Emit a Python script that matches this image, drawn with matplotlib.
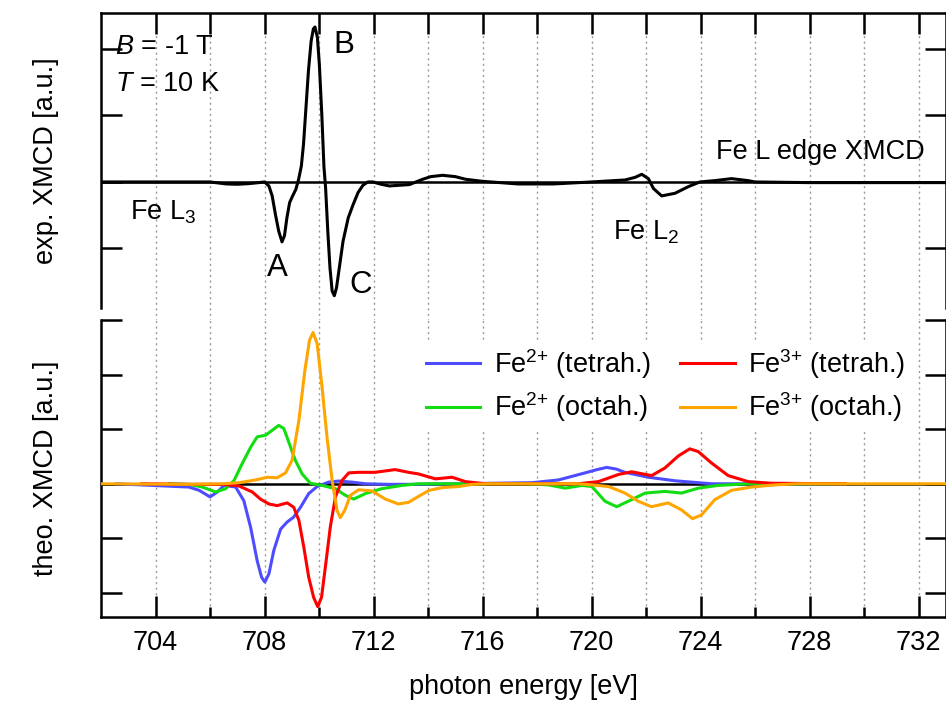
import numpy as np
import matplotlib
matplotlib.use("Agg")
import matplotlib.pyplot as plt

plt.rcParams["font.family"] = ["Liberation Sans", "DejaVu Sans"]
plt.rcParams["mathtext.fontset"] = "custom"
plt.rcParams["mathtext.rm"] = "Liberation Sans"
plt.rcParams["mathtext.it"] = "Liberation Sans:italic"
FS = 19.5

# experimental XMCD (photon energy [eV], a.u.)
exp_E = [702.0, 706.0, 706.6, 707.0, 707.43, 707.79, 708.0, 708.16, 708.28, 708.40, 708.52, 708.64,
         708.73, 708.82, 708.92, 709.03, 709.15, 709.25, 709.35, 709.43, 709.52, 709.61, 709.71,
         709.79, 709.85, 709.94, 710.01, 710.10, 710.18, 710.24, 710.32, 710.40, 710.48, 710.56,
         710.64, 710.76, 710.88, 711.07, 711.25, 711.43, 711.61, 711.79, 711.97, 712.28, 712.58,
         713.31, 713.80, 714.1, 714.53, 715.0, 715.38, 715.98, 717.3, 718.6, 720.0, 721.23,
         721.6, 721.84, 722.08, 722.27, 722.57, 723.06, 723.55, 723.97, 724.52, 725.13, 725.74,
         725.99, 728.0, 733.0]
exp_y = [0.0, 0.0, -0.03, -0.035, -0.025, -0.01, 0.0, -0.06, -0.21, -0.49, -0.74, -0.90,
         -0.81, -0.54, -0.31, -0.21, -0.11, 0.04, 0.24, 0.57, 1.12, 1.67, 2.12,
         2.30, 2.33, 2.17, 1.77, 1.02, 0.22, -0.09, -0.74, -1.29, -1.64, -1.71,
         -1.59, -1.24, -0.89, -0.54, -0.34, -0.16, -0.05, 0.0, 0.0, -0.035, -0.06,
         -0.04, 0.04, 0.08, 0.10, 0.08, 0.04, 0.01, -0.03, -0.03, 0.0, 0.03,
         0.07, 0.115, 0.05, -0.10, -0.21, -0.17, -0.07, 0.0, 0.02, 0.05, 0.02,
         0.0, -0.01, -0.01]

# calculated XMCD contributions
fe2_tet_E = [702.56, 705.23, 705.6, 706.0, 706.27, 706.51, 706.94, 707.24, 707.49, 707.73, 707.89,
             708.01, 708.16, 708.34, 708.59, 708.83, 709.07, 709.32, 709.62, 709.93, 710.35, 710.72,
             711.21, 711.70, 712.55, 713.65, 715.0, 717.81, 718.78, 719.76, 720.2, 720.55, 720.9,
             721.22, 722.08, 723.06, 723.91, 724.40, 729.3]
fe2_tet_y = [0.0, -0.06, -0.12, -0.24, -0.15, -0.03, -0.06, -0.31, -0.80, -1.41, -1.71,
             -1.80, -1.65, -1.22, -0.83, -0.70, -0.61, -0.43, -0.18, -0.05, 0.03, 0.05,
             0.03, 0.0, -0.01, -0.01, 0.0, 0.02, 0.07, 0.20, 0.26, 0.30, 0.27,
             0.21, 0.12, 0.055, 0.02, 0.0, 0.0]

fe2_oct_E = [704.5, 705.23, 705.72, 706.21, 706.57, 706.88, 707.18, 707.49, 707.73, 708.04, 708.28,
             708.52, 708.71, 708.89, 709.13, 709.38, 709.68, 710.11, 710.60, 710.96, 711.27, 711.70,
             712.30, 713.04, 713.65, 717.5, 718.42, 719.03, 719.64, 720.01, 720.49, 720.92, 721.47,
             721.96, 722.69, 723.30, 723.91, 724.64, 725.74, 729.3]
fe2_oct_y = [0.0, -0.01, -0.06, -0.15, -0.09, 0.06, 0.37, 0.67, 0.86, 0.89, 0.98,
             1.07, 1.01, 0.76, 0.43, 0.18, 0.01, -0.03, -0.09, -0.21, -0.28, -0.18,
             -0.09, -0.03, 0.0, 0.0, -0.02, -0.08, -0.03, -0.05, -0.32, -0.42, -0.29,
             -0.17, -0.14, -0.17, -0.08, -0.03, 0.0, 0.0]

fe3_tet_E = [703.5, 705.23, 706.45, 707.06, 707.55, 707.85, 708.16, 708.46, 708.83, 709.07, 709.26,
             709.44, 709.62, 709.80, 709.95, 710.09, 710.23, 710.41, 710.60, 710.84, 711.09, 711.45,
             712.06, 712.79, 713.28, 713.65, 714.27, 714.88, 715.37, 715.74, 716.11, 719.5, 720.25,
             720.98, 721.47, 722.20, 722.69, 723.18, 723.60, 723.91, 724.40, 725.01, 725.74, 726.60,
             729.3]
fe3_tet_y = [0.0, -0.01, -0.01, -0.04, -0.15, -0.28, -0.37, -0.40, -0.35, -0.43, -0.67,
             -1.16, -1.71, -2.08, -2.25, -2.08, -1.53, -0.80, -0.24, 0.06, 0.20, 0.21,
             0.21, 0.26, 0.21, 0.18, 0.09, 0.12, 0.04, 0.02, 0.0, 0.0, 0.04,
             0.17, 0.22, 0.15, 0.29, 0.51, 0.64, 0.59, 0.38, 0.15, 0.04, 0.01,
             0.0]

fe3_oct_E = [702.0, 705.23, 706.45, 707.06, 707.67, 708.10, 708.46, 708.77, 709.01, 709.26, 709.48,
             709.65, 709.78, 709.93, 710.11, 710.29, 710.48, 710.66, 710.78, 710.94, 711.15, 711.45,
             711.94, 712.43, 712.91, 713.28, 713.65, 714.04, 714.52, 715.13, 715.62, 716.23, 719.5,
             720.01, 720.62, 721.22, 721.71, 722.20, 722.81, 723.30, 723.70, 724.03, 724.52, 725.13,
             725.86, 726.72, 727.57, 733.0]
fe3_oct_y = [0.0, -0.01, 0.0, 0.02, 0.07, 0.12, 0.11, 0.20, 0.43, 1.16, 2.08,
             2.63, 2.77, 2.57, 1.77, 0.86, 0.06, -0.49, -0.62, -0.49, -0.21, -0.11,
             -0.13, -0.28, -0.37, -0.34, -0.23, -0.12, -0.07, -0.05, -0.01, 0.0, 0.0,
             -0.02, -0.05, -0.17, -0.32, -0.42, -0.35, -0.48, -0.64, -0.57, -0.29, -0.12,
             -0.06, -0.02, 0.0, 0.0]

series = [
    (fe2_tet_E, fe2_tet_y, "#4d4dff", r"Fe$^{2{+}}$ (tetrah.)"),
    (fe2_oct_E, fe2_oct_y, "#11dd11", r"Fe$^{2{+}}$ (octah.)"),
    (fe3_tet_E, fe3_tet_y, "#ff0000", r"Fe$^{3{+}}$ (tetrah.)"),
    (fe3_oct_E, fe3_oct_y, "#ffa500", r"Fe$^{3{+}}$ (octah.)"),
]

W, H = 946, 707
fig = plt.figure(figsize=(W / 100, H / 100), dpi=100)
L = 101 / W
ax1 = fig.add_axes([L, 1 - 308 / H, 1 - L, (308 - 13) / H])
ax2 = fig.add_axes([L, 1 - 617 / H, 1 - L, (617 - 320) / H])

grid_x = np.arange(704, 733, 2)
for ax in (ax1, ax2):
    ax.set_xlim(702, 733)
    ax.axhline(0, color="black", lw=1.8, zorder=2)
    for s in ax.spines.values():
        s.set_linewidth(1.8)
    ax.tick_params(direction="in", width=1.8, length=15, labelsize=FS,
                   left=True, right=True, labelleft=False)

# top panel
ax1.plot(exp_E, exp_y, color="black", lw=2.2, zorder=3)
ax1.set_ylim(-1.895, 2.54)
ax1.set_yticks([-1, 0, 1, 2])
ax1.spines["bottom"].set_visible(False)
ax1.set_xticks(grid_x)
ax1.tick_params(axis="x", top=True, bottom=False, labelbottom=False)
for gx in grid_x:
    ax1.axvline(gx, ymin=-0.045, ymax=1, color="#999999", lw=1.0, ls=(0, (1.5, 2.5)),
                clip_on=False, zorder=1)
ax1.set_ylabel("exp. XMCD [a.u.]", fontsize=FS, labelpad=30)

ax1.text(702.5, 2.03, r"$B$ = -1 T", fontsize=FS, va="center")
ax1.text(702.5, 1.47, r"$T$ = 10 K", fontsize=FS, va="center")
ax1.text(710.92, 2.06, "B", fontsize=FS + 3, ha="center", va="center")
ax1.text(708.47, -1.29, "A", fontsize=FS + 3, ha="center", va="center")
ax1.text(711.54, -1.55, "C", fontsize=FS + 3, ha="center", va="center")
ax1.text(703.05, -0.45, r"Fe L$_3$", fontsize=FS, va="center")
ax1.text(720.8, -0.75, r"Fe L$_2$", fontsize=FS, va="center")
ax1.text(732.2, 0.45, "Fe L edge XMCD", fontsize=FS, ha="right", va="center")

# bottom panel
for E, y, c, lab in series:
    ax2.plot(E, y, color=c, lw=2.2, label=lab, zorder=3)
ax2.set_ylim(-2.44, 3.0)
ax2.set_yticks([-2, -1, 0, 1, 2, 3])
ax2.spines["top"].set_visible(False)
ax2.set_xticks(np.arange(704, 733, 4))
ax2.set_xticks(np.arange(706, 733, 4), minor=True)
ax2.tick_params(axis="x", which="minor", direction="in", length=7, width=1.8, top=False)
ax2.tick_params(axis="x", top=False, pad=9)
for gx in grid_x:
    ax2.axvline(gx, color="#999999", lw=1.0, ls=(0, (1.5, 2.5)), zorder=1)
ax2.set_ylabel("theo. XMCD [a.u.]", fontsize=FS, labelpad=30)
ax2.set_xlabel("photon energy [eV]", fontsize=FS, labelpad=13)

leg = ax2.legend(ncol=2, fontsize=FS, frameon=True, loc="upper left",
                 bbox_to_anchor=(0.378, 0.927), handlelength=2.0, handletextpad=0.5,
                 columnspacing=1.1, labelspacing=0.35, borderpad=0.2, borderaxespad=0)
leg.get_frame().set_edgecolor("none")
leg.get_frame().set_facecolor("white")
leg.get_frame().set_alpha(1)
leg.set_zorder(5)

fig.savefig("out.png", dpi=100)
